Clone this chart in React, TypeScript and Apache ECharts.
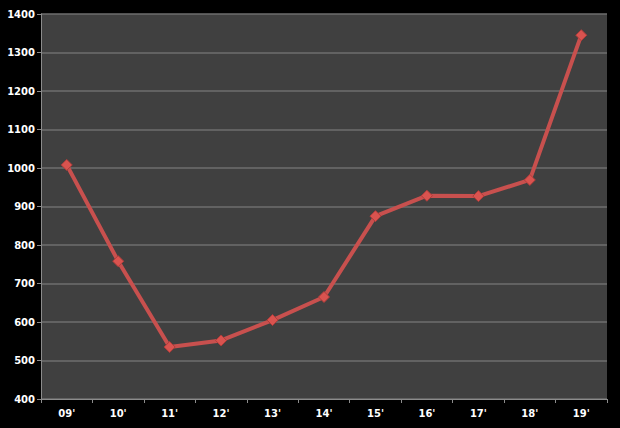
import React, { useEffect, useRef } from "react";
import * as echarts from "echarts";

const categories = ["09'", "10'", "11'", "12'", "13'", "14'", "15'", "16'", "17'", "18'", "19'"];
const values = [1008, 758, 535, 552, 605, 665, 875, 928, 927, 969, 1345];
const yMin = 400;
const yMax = 1400;
const yInterval = 100;

export default function App() {
  const ref = useRef<HTMLDivElement>(null);
  useEffect(() => {
    document.body.style.margin = "0";
    const chart = echarts.init(ref.current!, null, { renderer: "svg" });
    chart.setOption({
      animation: false,
      backgroundColor: "#000000",
      grid: {
        left: 41,
        right: 13,
        top: 14,
        bottom: 29,
        show: true,
        backgroundColor: "#404040",
        borderWidth: 0,
      },
      xAxis: {
        type: "category",
        data: categories,
        boundaryGap: true,
        axisLine: { show: true, lineStyle: { color: "#8c8c8c", width: 1 } },
        axisTick: { show: true, alignWithLabel: false, length: 4, lineStyle: { color: "#8c8c8c" } },
        axisLabel: {
          color: "#ffffff",
          fontFamily: "DejaVu Sans",
          fontWeight: "bold",
          fontSize: 10,
          margin: 9,
        },
      },
      yAxis: {
        type: "value",
        min: yMin,
        max: yMax,
        interval: yInterval,
        axisLine: { show: true, lineStyle: { color: "#8c8c8c", width: 1 } },
        axisTick: { show: true, length: 4, lineStyle: { color: "#8c8c8c" } },
        axisLabel: {
          color: "#ffffff",
          fontFamily: "DejaVu Sans",
          fontWeight: "bold",
          fontSize: 10,
          margin: 6,
          formatter: (v: number) => String(v),
        },
        splitLine: { show: true, lineStyle: { color: "#6e6e6e", width: 1.5 } },
      },
      series: [
        {
          type: "line",
          data: values,
          symbol: "diamond",
          symbolSize: 11,
          lineStyle: { color: "#c8504e", width: 4 },
          itemStyle: { color: "#d9534f", borderColor: "#b03c3a", borderWidth: 1 },
        },
      ],
    });
    return () => chart.dispose();
  }, []);
  return (
    <div
      ref={ref}
      style={{ position: "fixed", left: 0, top: 0, width: 620, height: 428 }}
    />
  );
}
